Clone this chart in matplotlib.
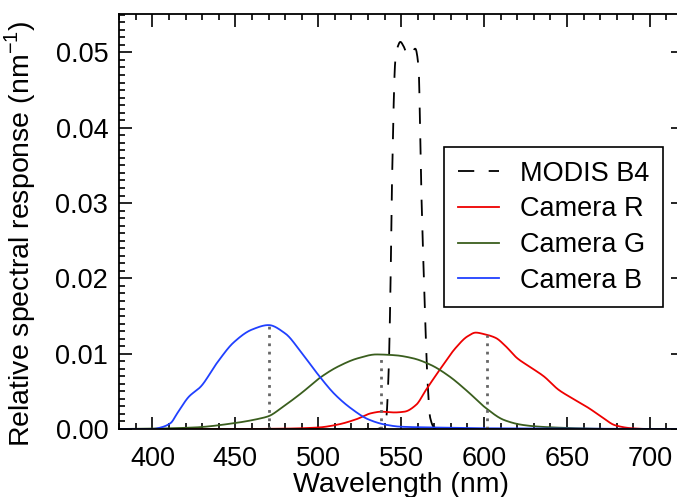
import numpy as np
import matplotlib
matplotlib.use('Agg')
import matplotlib.pyplot as plt
from matplotlib.ticker import MultipleLocator, FormatStrFormatter

plt.rcParams['font.family'] = ['Liberation Sans', 'DejaVu Sans']
plt.rcParams['mathtext.fontset'] = 'custom'
plt.rcParams['mathtext.rm'] = 'Liberation Sans'

# MODIS band 4 response (nm, nm^-1)
modis_wl = [380, 535, 539, 541, 542.5, 543.5, 544.5, 546.5, 548, 549.5, 551.5,
            554, 556, 558.5, 560.5, 562, 564, 566, 567.5, 570, 575, 720]
modis_rsr = [0, 0, 0.0003, 0.0015, 0.008, 0.018, 0.033, 0.049, 0.0508, 0.0514, 0.0508,
             0.0496, 0.0498, 0.0505, 0.048, 0.033, 0.018, 0.006, 0.0015, 0.0002, 0, 0]

# camera channels
red_wl = [380, 450, 480, 500, 512, 523, 532, 538, 546, 552, 559, 565, 574, 583, 590,
          595, 600, 607, 613, 620, 628, 636, 645, 653, 663, 671, 679, 689, 700, 720]
red_rsr = [0, 0, 0.00005, 0.0002, 0.0006, 0.0013, 0.0021, 0.0023, 0.0022, 0.0023,
           0.0032, 0.0052, 0.0081, 0.0108, 0.0123, 0.0128, 0.0126, 0.0121, 0.0110,
           0.0094, 0.0082, 0.0070, 0.0052, 0.0041, 0.0028, 0.0016, 0.0005, 0.0001, 0, 0]

green_wl = [380, 400, 425, 450, 465, 470, 479, 490, 501, 512, 524, 535, 546, 557,
            568, 579, 590, 601, 612, 623, 634, 656, 678, 720]
green_rsr = [0, 0.00005, 0.0002, 0.0008, 0.0014, 0.0017, 0.0030, 0.0048, 0.0068,
             0.0083, 0.0094, 0.0099, 0.0098, 0.0094, 0.0085, 0.0070, 0.0050, 0.0028,
             0.0012, 0.00055, 0.0003, 0.0001, 0, 0]

blue_wl = [380, 400, 405, 411, 415, 422, 429, 439, 449, 460, 470, 480, 490, 500,
           510, 520, 530, 540, 550, 570, 600, 650, 700, 720]
blue_rsr = [0, 0, 0.0002, 0.0008, 0.0021, 0.0043, 0.0056, 0.0088, 0.0115, 0.0132,
            0.0138, 0.0127, 0.0101, 0.0072, 0.0046, 0.0027, 0.0013, 0.0006, 0.0003,
            0.0002, 0.0001, 0.00005, 0, 0]

# central wavelengths of the camera channels
center_b, center_g, center_r = 470, 538, 602


def pchip(wl, rsr, step=0.25):
    # monotone cubic (Fritsch-Carlson) through the sampled points
    x = np.asarray(wl, float)
    y = np.asarray(rsr, float)
    h = np.diff(x)
    d = np.diff(y) / h
    m = np.zeros_like(y)
    m[0], m[-1] = d[0], d[-1]
    for k in range(1, len(x) - 1):
        if d[k - 1] * d[k] > 0:
            w1 = 2 * h[k] + h[k - 1]
            w2 = h[k] + 2 * h[k - 1]
            m[k] = (w1 + w2) / (w1 / d[k - 1] + w2 / d[k])
    xn = np.arange(x[0], x[-1] + step / 2, step)
    i = np.clip(np.searchsorted(x, xn) - 1, 0, len(x) - 2)
    t = (xn - x[i]) / h[i]
    h00 = 2 * t**3 - 3 * t**2 + 1
    h10 = t**3 - 2 * t**2 + t
    h01 = -2 * t**3 + 3 * t**2
    h11 = t**3 - t**2
    yn = h00 * y[i] + h10 * h[i] * m[i] + h01 * y[i + 1] + h11 * h[i] * m[i + 1]
    return xn, yn


fig = plt.figure(figsize=(6.77, 4.97), dpi=100)
ax = fig.add_axes([0.1762, 0.1368, 0.8327, 0.835])

ax.plot(*pchip(modis_wl, modis_rsr), color='black', lw=1.3, dashes=(9, 8), label='MODIS B4')
ax.plot(*pchip(red_wl, red_rsr), color='#ee0000', lw=1.3, label='Camera R')
ax.plot(*pchip(green_wl, green_rsr), color='#3a5e1e', lw=1.3, label='Camera G')
ax.plot(*pchip(blue_wl, blue_rsr), color='#2040ff', lw=1.3, label='Camera B')

for c, (wl, rsr) in [(center_b, pchip(blue_wl, blue_rsr)),
                     (center_g, pchip(green_wl, green_rsr)),
                     (center_r, pchip(red_wl, red_rsr))]:
    ax.plot([c, c], [0, np.interp(c, wl, rsr)], color='#666666', lw=2, ls=(0, (1, 2)))

ax.set_xlim(380, 720)
ax.set_ylim(0, 0.0551)
ax.xaxis.set_major_locator(MultipleLocator(50))
ax.xaxis.set_minor_locator(MultipleLocator(10))
ax.yaxis.set_major_locator(MultipleLocator(0.01))
ax.yaxis.set_minor_locator(MultipleLocator(0.001))
ax.yaxis.set_major_formatter(FormatStrFormatter('%.2f'))
ax.tick_params(which='both', direction='in', top=True, right=True, labelsize=19.5, width=1.2)
ax.tick_params(which='major', length=9)
ax.tick_params(which='minor', length=4.5)
ax.tick_params(axis='x', which='major', pad=12)
ax.tick_params(axis='y', which='major', pad=8)
for s in ax.spines.values():
    s.set_linewidth(1.3)

ax.set_xlabel('Wavelength (nm)', fontsize=20.5, labelpad=0.5)
ax.set_ylabel(r'Relative spectral response (nm$^{-1}$)', fontsize=20.5)
ax.yaxis.set_label_coords(-0.144, 0.47)

leg = ax.legend(loc='upper right', bbox_to_anchor=(0.9645, 0.6795), borderaxespad=0,
                fontsize=19.5, fancybox=False, framealpha=1, edgecolor='black',
                handlelength=1.5, handletextpad=0.8, labelspacing=0.36, borderpad=0.5)
leg.get_frame().set_linewidth(1.2)

fig.savefig('out.png', dpi=100)
